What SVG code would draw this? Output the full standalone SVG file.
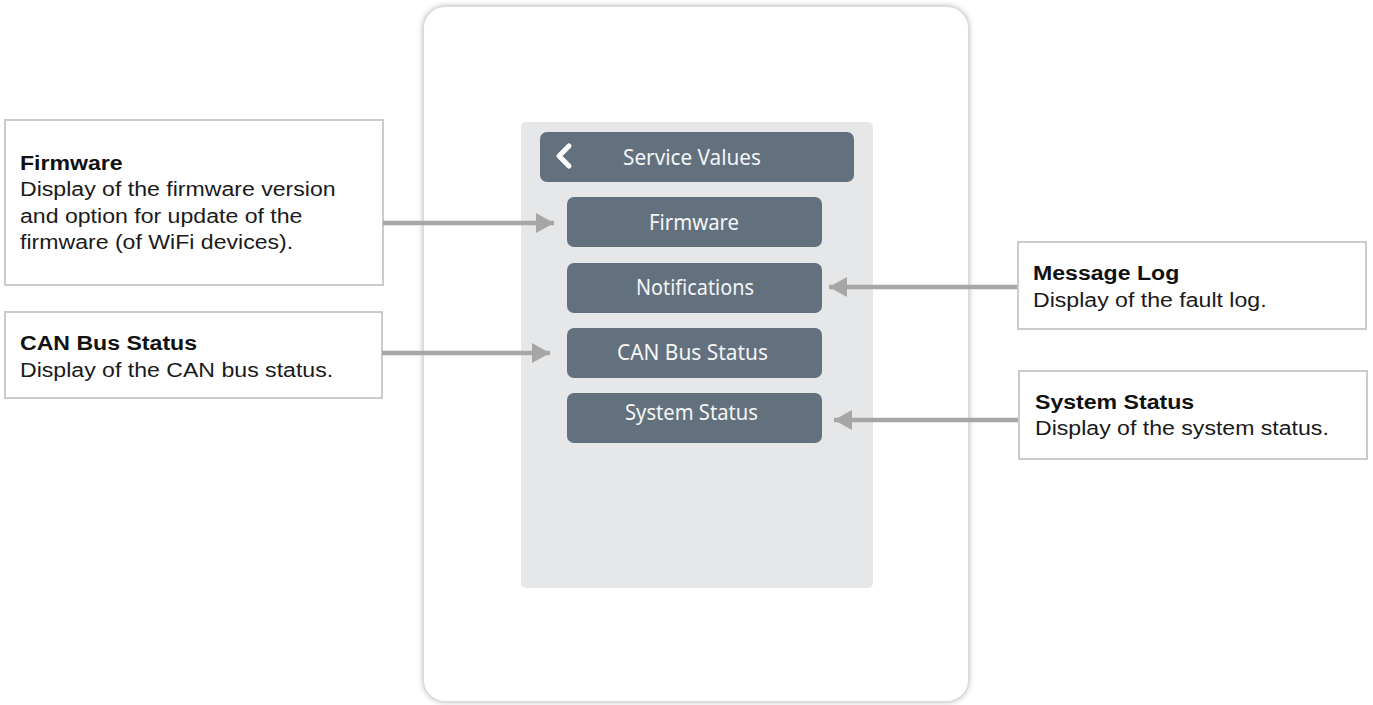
<svg xmlns="http://www.w3.org/2000/svg" width="1373" height="705" viewBox="0 0 1373 705">
<style>
.box{fill:#fff;stroke:#cbcbcb;stroke-width:2}
.btn{fill:#63717e}
.bt{font-family:"Noto Sans","Open Sans",sans-serif;font-size:22px;fill:#f4f5f6;text-anchor:middle}
.tt{font-family:"Liberation Sans",Arial,sans-serif;font-size:21px;font-weight:bold;fill:#111}
.td{font-family:"Liberation Sans",Arial,sans-serif;font-size:21px;fill:#1a1a1a}
.con{stroke:#a6a6a6;stroke-width:4.5;fill:none}
</style>
<defs>
<filter id="sh" x="-5%" y="-5%" width="110%" height="110%">
<feDropShadow dx="0" dy="0" stdDeviation="2.5" flood-color="#000" flood-opacity="0.2"/>
</filter>
<marker id="ah" viewBox="0 0 18 20" refX="18" refY="10" markerWidth="18" markerHeight="20" markerUnits="userSpaceOnUse" orient="auto">
<path d="M0,0 L18,10 L0,20 Z" fill="#a6a6a6"/>
</marker>
</defs>
<rect width="1373" height="705" fill="#fff"/>
<g id="device">
<rect x="423" y="6" width="546" height="696" rx="22" fill="#fff" stroke="#dcdcdc" stroke-width="2" filter="url(#sh)"/>
<rect x="521" y="122" width="352" height="466" rx="5" fill="#e6e7e9"/>
</g>
<g id="header">
<rect class="btn" x="540" y="132" width="314" height="50" rx="7"/>
<path d="M569,146 L559,156 L569,166" fill="none" stroke="#fff" stroke-width="5" stroke-linecap="round" stroke-linejoin="round"/>
<text class="bt" x="692" y="165" textLength="138" lengthAdjust="spacingAndGlyphs">Service Values</text>
</g>
<g id="btn-firmware">
<rect class="btn" x="567" y="197" width="255" height="50" rx="7"/>
<text class="bt" x="694" y="230" textLength="90" lengthAdjust="spacingAndGlyphs">Firmware</text>
</g>
<g id="btn-notifications">
<rect class="btn" x="567" y="263" width="255" height="50" rx="7"/>
<text class="bt" x="695" y="295" textLength="118" lengthAdjust="spacingAndGlyphs">Notifications</text>
</g>
<g id="btn-can">
<rect class="btn" x="567" y="328" width="255" height="50" rx="7"/>
<text class="bt" x="692.5" y="360" textLength="151" lengthAdjust="spacingAndGlyphs">CAN Bus Status</text>
</g>
<g id="btn-system">
<rect class="btn" x="567" y="393" width="255" height="50" rx="7"/>
<text class="bt" x="691.5" y="420" textLength="133" lengthAdjust="spacingAndGlyphs">System Status</text>
</g>
<g id="note-firmware">
<rect class="box" x="5" y="120" width="378" height="165"/>
<g transform="translate(20,0) scale(1.1,1)">
<text class="tt" x="0" y="170">Firmware</text>
<text class="td" x="0" y="196">Display of the firmware version</text>
<text class="td" x="0" y="223">and option for update of the</text>
<text class="td" x="0" y="249">firmware (of WiFi devices).</text>
</g>
</g>
<g id="note-can">
<rect class="box" x="5" y="312" width="377" height="86"/>
<g transform="translate(20,0) scale(1.1,1)">
<text class="tt" x="0" y="350">CAN Bus Status</text>
<text class="td" x="0" y="377">Display of the CAN bus status.</text>
</g>
</g>
<g id="note-messagelog">
<rect class="box" x="1018" y="242" width="348" height="87"/>
<g transform="translate(1033,0) scale(1.1,1)">
<text class="tt" x="0" y="280">Message Log</text>
<text class="td" x="0" y="307">Display of the fault log.</text>
</g>
</g>
<g id="note-system">
<rect class="box" x="1019" y="371" width="348" height="88"/>
<g transform="translate(1035,0) scale(1.1,1)">
<text class="tt" x="0" y="409">System Status</text>
<text class="td" x="0" y="435">Display of the system status.</text>
</g>
</g>
<g id="connectors">
<line class="con" x1="383" y1="223" x2="554" y2="223" marker-end="url(#ah)"/>
<line class="con" x1="382" y1="353" x2="550" y2="353" marker-end="url(#ah)"/>
<line class="con" x1="1017" y1="287" x2="829" y2="287" marker-end="url(#ah)"/>
<line class="con" x1="1018" y1="420" x2="834" y2="420" marker-end="url(#ah)"/>
</g>
</svg>
